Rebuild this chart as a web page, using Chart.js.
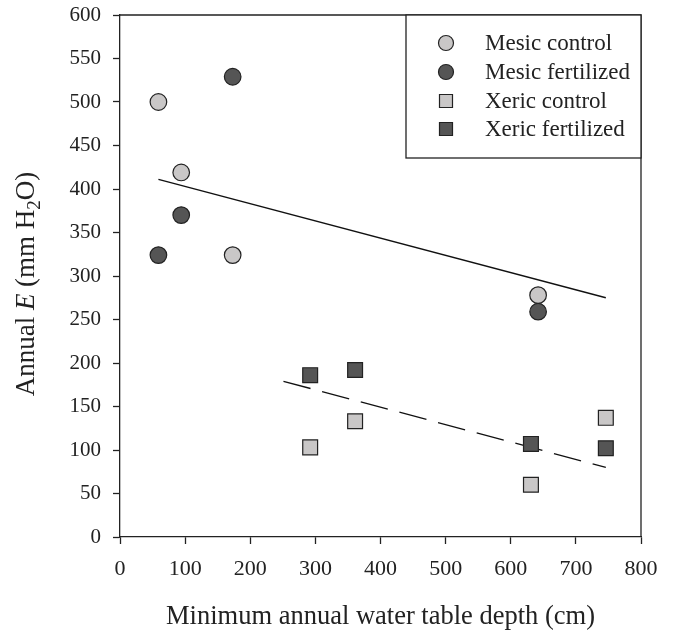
<!DOCTYPE html>
<html>
<head>
<meta charset="utf-8">
<script src="https://cdn.jsdelivr.net/npm/chart.js@4.4.0/dist/chart.umd.min.js"></script>
<style>
  body { margin: 0; background: #fff; }
</style>
</head>
<body>
<canvas id="myChart" width="675" height="630"></canvas>
<script>
// values
const mesicControlX = [59, 94, 173, 642];
const mesicControlY = [500, 419, 324, 278];
const mesicFertX = [59, 94, 173, 642];
const mesicFertY = [324, 370, 529, 259];
const xericControlX = [292, 361, 631, 746];
const xericControlY = [103, 133, 60, 137];
const xericFertX = [292, 361, 631, 746];
const xericFertY = [186, 192, 107, 102];

// regression lines
const mesicFitX = [59, 746];
const mesicFitY = [411, 275];
const xericFitX = [251, 746];
const xericFitY = [179, 80];

const legendLabels = ['Mesic control', 'Mesic fertilized', 'Xeric control', 'Xeric fertilized'];
const xTicks = [0, 100, 200, 300, 400, 500, 600, 700, 800];
const yTicks = [0, 50, 100, 150, 200, 250, 300, 350, 400, 450, 500, 550, 600];

const light = '#c9c7c7';
const dark = '#555555';
const edge = '#222222';
const serif = "'Liberation Serif', 'DejaVu Serif', serif";

function pts(xs, ys) {
  return xs.map((x, i) => ({ x: x, y: ys[i] }));
}

// frame + legend box + rotated y title with italic E and subscript 2
const extras = {
  id: 'extras',
  beforeDatasetsDraw(chart) {
    const { ctx, chartArea: a } = chart;
    ctx.save();
    ctx.strokeStyle = edge;
    ctx.lineWidth = 1.3;
    ctx.beginPath();
    ctx.moveTo(a.left, a.top);
    ctx.lineTo(a.right, a.top);
    ctx.lineTo(a.right, a.bottom);
    ctx.stroke();
    ctx.restore();
  },
  afterDraw(chart) {
    const { ctx, chartArea: a } = chart;
    ctx.save();
    // legend
    const bx = a.right - 235, by = a.top, bw = 235, bh = 143;
    ctx.fillStyle = '#fff';
    ctx.fillRect(bx, by, bw, bh);
    ctx.strokeStyle = edge;
    ctx.lineWidth = 1.3;
    ctx.strokeRect(bx, by, bw, bh);
    const fills = [light, dark, light, dark];
    const rowY = [43, 72, 101, 129];
    ctx.font = '23px ' + serif;
    ctx.textBaseline = 'middle';
    ctx.textAlign = 'left';
    legendLabels.forEach((lab, i) => {
      const cx = bx + 40, cy = rowY[i];
      ctx.fillStyle = fills[i];
      ctx.strokeStyle = edge;
      ctx.lineWidth = 1.2;
      ctx.beginPath();
      if (i < 2) {
        ctx.arc(cx, cy, 7.5, 0, Math.PI * 2);
      } else {
        ctx.rect(cx - 6.5, cy - 6.5, 13, 13);
      }
      ctx.fill();
      ctx.stroke();
      ctx.fillStyle = '#222';
      ctx.fillText(lab, bx + 79, cy + 1);
    });

    // y axis title
    ctx.translate(25, 284);
    ctx.rotate(-Math.PI / 2);
    ctx.fillStyle = '#222';
    ctx.textBaseline = 'alphabetic';
    const parts = [
      { t: 'Annual ', f: '27px ' + serif, dy: 0 },
      { t: 'E', f: 'italic 27px ' + serif, dy: 0 },
      { t: ' (mm H', f: '27px ' + serif, dy: 0 },
      { t: '2', f: '19px ' + serif, dy: 6 },
      { t: 'O)', f: '27px ' + serif, dy: 0 }
    ];
    let total = 0;
    parts.forEach(p => { ctx.font = p.f; total += ctx.measureText(p.t).width; });
    let x = -total / 2;
    parts.forEach(p => {
      ctx.font = p.f;
      ctx.fillText(p.t, x, 9 + p.dy);
      x += ctx.measureText(p.t).width;
    });
    ctx.restore();
  }
};

const ctx = document.getElementById('myChart').getContext('2d');

new Chart(ctx, {
  type: 'scatter',
  data: {
    datasets: [
      {
        label: 'Mesic fit', data: pts(mesicFitX, mesicFitY), showLine: true,
        borderColor: '#111', borderWidth: 1.3, pointRadius: 0, order: 2
      },
      {
        label: 'Xeric fit', data: pts(xericFitX, xericFitY), showLine: true,
        borderColor: '#111', borderWidth: 1.3, borderDash: [28, 12], pointRadius: 0, order: 2
      },
      {
        label: legendLabels[0], data: pts(mesicControlX, mesicControlY),
        pointStyle: 'circle', pointRadius: 8.3, backgroundColor: light, borderColor: edge, borderWidth: 1.2, order: 1
      },
      {
        label: legendLabels[1], data: pts(mesicFertX, mesicFertY),
        pointStyle: 'circle', pointRadius: 8.3, backgroundColor: dark, borderColor: edge, borderWidth: 1.2, order: 1
      },
      {
        label: legendLabels[2], data: pts(xericControlX, xericControlY),
        pointStyle: 'rect', pointRadius: 10.5, backgroundColor: light, borderColor: edge, borderWidth: 1.2, order: 1
      },
      {
        label: legendLabels[3], data: pts(xericFertX, xericFertY),
        pointStyle: 'rect', pointRadius: 10.5, backgroundColor: dark, borderColor: edge, borderWidth: 1.2, order: 1
      }
    ]
  },
  options: {
    responsive: false,
    animation: false,
    clip: false,
    layout: { padding: { top: 15, right: 34, left: 0, bottom: 0 } },
    plugins: {
      legend: { display: false },
      tooltip: { enabled: false }
    },
    scales: {
      x: {
        type: 'linear',
        min: 0, max: 800,
        afterBuildTicks(scale) { scale.ticks = xTicks.map(v => ({ value: v })); },
        afterFit(scale) { scale.height = 93; scale.paddingLeft = 0; scale.paddingRight = 0; },
        border: { color: edge, width: 1.3 },
        grid: { drawOnChartArea: false, drawTicks: true, tickLength: 7, color: edge, tickWidth: 1.3 },
        ticks: { color: '#222', padding: 12, font: { family: serif, size: 22 } },
        title: {
          display: true,
          text: 'Minimum annual water table depth (cm)',
          color: '#222',
          font: { family: serif, size: 26.5, lineHeight: 1.0 },
          padding: { top: 0, bottom: 0 }
        }
      },
      y: {
        type: 'linear',
        min: 0, max: 600,
        afterBuildTicks(scale) { scale.ticks = yTicks.map(v => ({ value: v })); },
        afterFit(scale) { scale.width = 120; scale.paddingTop = 0; scale.paddingBottom = 0; },
        border: { color: edge, width: 1.3 },
        grid: { drawOnChartArea: false, drawTicks: true, tickLength: 7, color: edge, tickWidth: 1.3 },
        ticks: { color: '#222', padding: 12, font: { family: serif, size: 21 } }
      }
    }
  },
  plugins: [extras]
});
</script>
</body>
</html>
